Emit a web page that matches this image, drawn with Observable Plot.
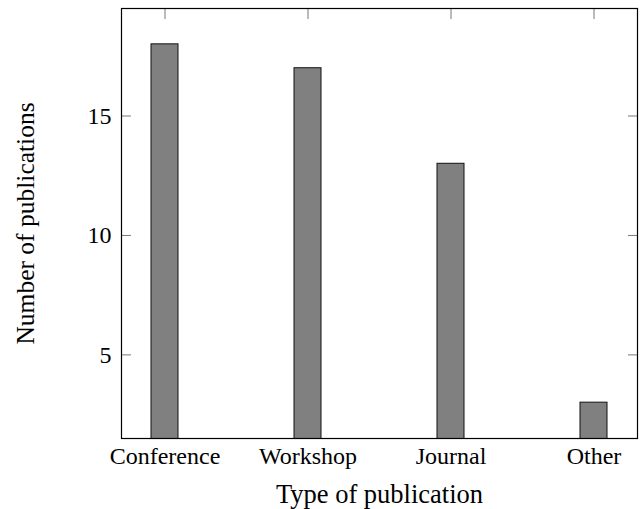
<!DOCTYPE html>
<html>
<head>
<meta charset="utf-8">
<script src="https://cdn.jsdelivr.net/npm/d3@7"></script>
<script src="https://cdn.jsdelivr.net/npm/@observablehq/plot@0.6"></script>
<style>
  html, body { margin: 0; padding: 0; background: #fff; }
  #chart svg, #chart svg text { font-family: "Liberation Serif", "DejaVu Serif", serif !important; }
</style>
</head>
<body>
<div id="chart"></div>
<script>
const categories = ["Conference", "Workshop", "Journal", "Other"];
const counts = [18, 17, 13, 3];
const yTicks = [5, 10, 15];
const xLabel = "Type of publication";
const yLabel = "Number of publications";

const data = categories.map((c, i) => ({type: c, count: counts[i]}));

const chart = Plot.plot({
  width: 643,
  height: 509,
  marginLeft: 121,
  marginRight: 6,
  marginTop: 8,
  marginBottom: 71,
  style: {fontSize: "24px", color: "#000", background: "#fff"},
  x: {domain: categories, paddingInner: 0.8125, paddingOuter: 0.198, label: null},
  y: {domain: [1.5, 19.5], label: null},
  marks: [
    Plot.axisX({anchor: "top", tickSize: -10, text: null, stroke: "#777", strokeWidth: 1, label: null}),
    Plot.axisY({anchor: "left", ticks: yTicks, tickSize: -10, text: null, stroke: "#777", strokeWidth: 1, label: null}),
    Plot.axisY({anchor: "right", ticks: yTicks, tickSize: -10, text: null, stroke: "#777", strokeWidth: 1, label: null}),
    Plot.axisY({anchor: "left", ticks: yTicks, tickSize: 0, tickPadding: 10, fontSize: 24, label: null}),
    Plot.axisX({anchor: "bottom", tickSize: 0, tickPadding: 8, fontSize: 24, label: null}),
    Plot.barY(data, {x: "type", y: "count", fill: "#808080", stroke: "#111", strokeWidth: 1, clip: true}),
    Plot.frame({stroke: "#000", strokeWidth: 1.2}),
    Plot.text([xLabel], {frameAnchor: "bottom", textAnchor: "middle", lineAnchor: "middle", dy: 56, fontSize: 26.5, text: d => d}),
    Plot.text([yLabel], {frameAnchor: "left", textAnchor: "middle", lineAnchor: "middle", dx: -96, rotate: -90, fontSize: 25.5, text: d => d})
  ]
});
document.getElementById("chart").appendChild(chart);
</script>
</body>
</html>
